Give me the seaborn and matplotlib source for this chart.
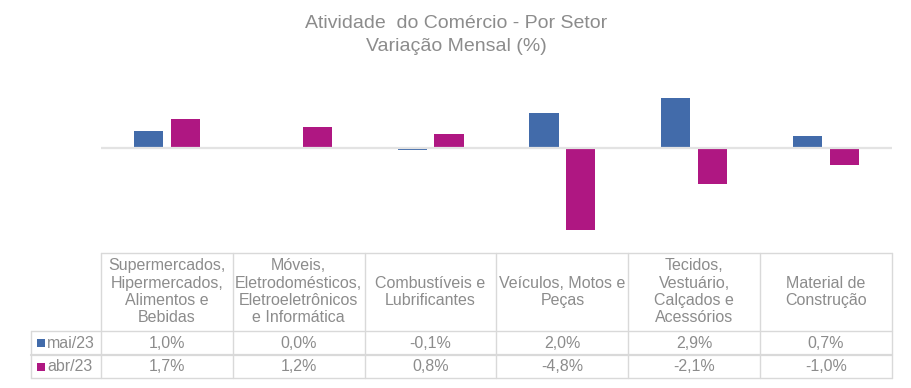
import matplotlib
matplotlib.use("Agg")
import matplotlib.pyplot as plt
from matplotlib.transforms import blended_transform_factory
from matplotlib.lines import Line2D
from matplotlib.patches import Rectangle
import seaborn as sns
import pandas as pd

categories = [
    "Supermercados,\nHipermercados,\nAlimentos e\nBebidas",
    "Móveis,\nEletrodomésticos,\nEletroeletrônicos\ne Informática",
    "Combustíveis e\nLubrificantes",
    "Veículos, Motos e\nPeças",
    "Tecidos,\nVestuário,\nCalçados e\nAcessórios",
    "Material de\nConstrução",
]
series_names = ["mai/23", "abr/23"]
mai23 = [1.0, 0.0, -0.1, 2.0, 2.9, 0.7]
abr23 = [1.7, 1.2, 0.8, -4.8, -2.1, -1.0]
colors = ["#426BAA", "#AF1782"]
title = "Atividade  do Comércio - Por Setor\nVariação Mensal (%)"

sns.set_theme(style="white")
plt.rcParams["font.family"] = ["Liberation Sans", "DejaVu Sans"]

W, H = 912, 388
fig = plt.figure(figsize=(W / 100, H / 100), dpi=100)

def fx(px):
    return px / W

def fy(py):
    return 1 - py / H

left, right = 101, 892
top_ax, bot_ax = 79, 251
ax = fig.add_axes([fx(left), fy(bot_ax), fx(right - left), (bot_ax - top_ax) / H])

df = pd.DataFrame({
    "cat": categories * 2,
    "serie": [series_names[0]] * len(categories) + [series_names[1]] * len(categories),
    "val": mai23 + abr23,
})
sns.barplot(data=df, x="cat", y="val", hue="serie", order=categories,
            hue_order=series_names, palette=colors, saturation=1, width=0.56, gap=0.21,
            linewidth=0, legend=False, ax=ax)
ax.set_xlim(-0.5, len(categories) - 0.5)
ax.set_ylim(-6, 4)
ax.axhline(0, color="#e3e3e3", lw=1.6, zorder=5)
ax.set_axis_off()

txt_color = "#8c8c8c"
line_color = "#d9d9d9"

fig.text(0.5, fy(35), title, ha="center", va="center", fontsize=14,
         color=txt_color, linespacing=1.4)

# Data table
tr = blended_transform_factory(ax.transData, fig.transFigure)
y_head_top, y_row1, y_row2, y_bot = 252.5, 331, 355, 378
x_leg = 31

def hline(y, x0, x1, lw=1.0):
    fig.add_artist(Line2D([fx(x0), fx(x1)], [fy(y), fy(y)], color=line_color, lw=lw,
                          transform=fig.transFigure))

def vline(x, y0, y1):
    fig.add_artist(Line2D([x, x], [fy(y0), fy(y1)], color=line_color, lw=1,
                          transform=tr))

hline(y_head_top, left, right)
hline(y_row1, x_leg, right)
hline(y_row2, x_leg, right, lw=1.6)
hline(y_bot, x_leg, right)
for i in range(len(categories) + 1):
    vline(i - 0.5, y_head_top, y_bot)
fig.add_artist(Line2D([fx(x_leg), fx(x_leg)], [fy(y_row1), fy(y_bot)], color=line_color,
                      lw=1, transform=fig.transFigure))

fs = 11.5
for i, cat in enumerate(categories):
    fig.text(i, fy((y_head_top + y_row1) / 2), cat, ha="center", va="center",
             fontsize=fs, color=txt_color, linespacing=1.2, transform=tr)

def fmt(v):
    return f"{v:.1f}%".replace(".", ",")

rows_y = [(y_row1 + y_row2) / 2, (y_row2 + y_bot) / 2]
for vals, name, col, yy in zip([mai23, abr23], series_names, colors, rows_y):
    for i, v in enumerate(vals):
        fig.text(i, fy(yy), fmt(v), ha="center", va="center", fontsize=fs,
                 color=txt_color, transform=tr)
    fig.add_artist(Rectangle((fx(37), fy(yy + 4)), 8 / W, 8 / H, facecolor=col,
                             edgecolor="none", transform=fig.transFigure))
    fig.text(fx(47), fy(yy), name, ha="left", va="center", fontsize=fs,
             color=txt_color)

fig.savefig("out.png", dpi=100, facecolor="white")
